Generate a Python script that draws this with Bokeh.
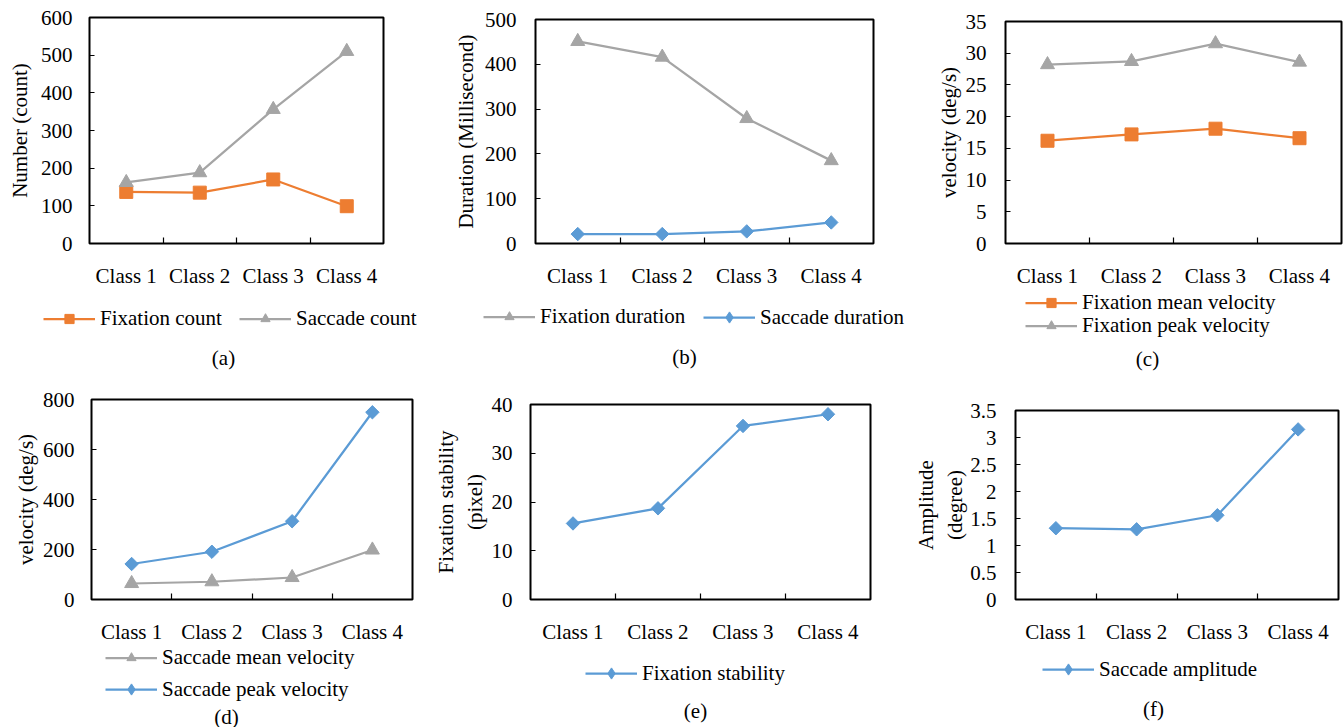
import numpy as np
from bokeh.plotting import figure
from bokeh.models import Range1d, FixedTicker, CustomJSTickFormatter, Legend, LegendItem, Label
from bokeh.layouts import row, column
from bokeh.embed import file_html
from bokeh.resources import INLINE

# ---------------- data ----------------
classes = ["Class 1", "Class 2", "Class 3", "Class 4"]

fixation_count = [137, 135, 170, 99]
saccade_count = [162, 188, 356, 510]

fixation_duration = [451, 416, 279, 185]
saccade_duration = [21, 21, 27, 47]

fixation_mean_velocity = [16.2, 17.2, 18.1, 16.6]
fixation_peak_velocity = [28.2, 28.7, 31.5, 28.6]

saccade_mean_velocity = [64, 71, 88, 198]
saccade_peak_velocity = [142, 191, 313, 749]

fixation_stability = [15.6, 18.7, 35.6, 38.0]
saccade_amplitude = [1.32, 1.30, 1.56, 3.15]

yticks_a = [0, 100, 200, 300, 400, 500, 600]
yticks_b = [0, 100, 200, 300, 400, 500]
yticks_c = [0, 5, 10, 15, 20, 25, 30, 35]
yticks_d = [0, 200, 400, 600, 800]
yticks_e = [0, 10, 20, 30, 40]
yticks_f = [0, 0.5, 1, 1.5, 2, 2.5, 3, 3.5]

# ---------------- style ----------------
FONT = "Liberation Serif"
FS = "21px"
ORANGE = "#ED7D31"
GRAY = "#A5A5A5"
BLUE = "#5B9BD5"

# chart markers
STYLE = {
    "square": dict(color=ORANGE, marker="square", size=13, angle=0.0),
    "triangle": dict(color=GRAY, marker="triangle", size=14, angle=0.0),
    "diamond": dict(color=BLUE, marker="square", size=9.5, angle=np.pi / 4),
}
# legend keys (legend marker size follows the key box height)
KEY = {
    "square": dict(color=ORANGE, marker="square", key_h=23),
    "triangle": dict(color=GRAY, marker="triangle", key_h=23),
    "diamond": dict(color=BLUE, marker="diamond", key_h=28),
}
LINE_W = 2.25
PAGE_W = 1343


def chart(width, height, left, right, top, bottom, ymax, yticks, ylabel,
          series, s1=19, s2=5):
    p = figure(width=width, height=height,
               min_border_left=left, min_border_right=right,
               min_border_top=top, min_border_bottom=bottom,
               x_range=Range1d(0.5, len(classes) + 0.5),
               y_range=Range1d(0, ymax),
               toolbar_location=None, output_backend="svg")
    p.grid.visible = False
    p.outline_line_color = "black"
    p.outline_line_width = 2
    p.outline_line_alpha = 1.0
    p.background_fill_color = "white"
    p.border_fill_color = "white"

    xs = list(range(1, len(classes) + 1))
    xa = p.xaxis[0]
    xa.ticker = FixedTicker(ticks=xs, minor_ticks=[x + 0.5 for x in xs[:-1]])
    xa.formatter = CustomJSTickFormatter(args=dict(labels=classes),
                                         code="return labels[Math.round(tick) - 1]")
    xa.major_tick_line_color = None
    xa.minor_tick_in = 6
    xa.minor_tick_out = 0
    xa.minor_tick_line_color = "black"
    xa.minor_tick_line_width = 1.2
    xa.axis_line_color = None
    xa.major_label_standoff = 14
    xa.major_label_text_font = FONT
    xa.major_label_text_font_size = FS
    xa.major_label_text_color = "black"

    ya = p.yaxis[0]
    ya.ticker = FixedTicker(ticks=yticks, minor_ticks=[])
    ya.formatter = CustomJSTickFormatter(code="return String(tick)")
    ya.major_tick_in = 5
    ya.major_tick_out = 0
    ya.major_tick_line_color = "black"
    ya.major_tick_line_width = 1.2
    ya.minor_tick_line_color = None
    ya.axis_line_color = None
    ya.major_label_standoff = s1
    ya.major_label_text_font = FONT
    ya.major_label_text_font_size = FS
    ya.major_label_text_color = "black"
    ya.axis_label = ylabel
    ya.axis_label_text_font = FONT
    ya.axis_label_text_font_size = FS
    ya.axis_label_text_font_style = "normal"
    ya.axis_label_text_color = "black"
    ya.axis_label_standoff = s2

    for values, kind, label in series:
        st = STYLE[kind]
        p.line(xs, values, line_color=st["color"], line_width=LINE_W)
        p.scatter(xs, values, marker=st["marker"], size=st["size"],
                  angle=st["angle"], fill_color=st["color"], line_color=st["color"])
    return p


def strip(height, keys, captions):
    """Full-width band (1 unit = 1 px) carrying legends and panel captions."""
    q = figure(width=PAGE_W, height=height,
               x_range=Range1d(0, PAGE_W), y_range=Range1d(0, height),
               min_border=0, toolbar_location=None, output_backend="svg",
               x_axis_location=None, y_axis_location=None)
    q.grid.visible = False
    q.outline_line_color = None
    q.background_fill_color = "white"
    q.border_fill_color = "white"
    nan = np.array([np.nan])
    for kind, label, x, y in keys:
        k = KEY[kind]
        lr = q.line(x=nan, y=nan, line_color=k["color"], line_width=LINE_W)
        sr = q.scatter(x=nan, y=nan, marker=k["marker"], size=10,
                       fill_color=k["color"], line_color=k["color"])
        q.add_layout(Legend(items=[LegendItem(label=label, renderers=[lr, sr])],
                            location=(x, y), orientation="horizontal",
                            glyph_width=52, glyph_height=k["key_h"],
                            label_height=20, label_standoff=5, padding=0, margin=0,
                            border_line_color=None, background_fill_alpha=0,
                            label_text_font=FONT, label_text_font_size=FS,
                            label_text_color="black"))
    for text, x, y in captions:
        q.add_layout(Label(x=x, y=y, text=text, text_align="center",
                           text_baseline="middle", text_font=FONT,
                           text_font_size=FS, text_color="black"))
    return q


# ---------------- row 1 (charts 290 px, band 88 px) ----------------
pa = chart(440, 290, 89, 57, 17, 41, 600, yticks_a, "Number (count)",
           [(fixation_count, "square", "Fixation count"),
            (saccade_count, "triangle", "Saccade count")], 17, 6)
pb = chart(470, 290, 95, 37, 19, 42, 500, yticks_b, "Duration (Millisecond)",
           [(fixation_duration, "triangle", "Fixation duration"),
            (saccade_duration, "diamond", "Saccade duration")], 19, 4)
pc = chart(433, 290, 95, 2, 21, 41, 35, yticks_c, "velocity (deg/s)",
           [(fixation_mean_velocity, "square", "Fixation mean velocity"),
            (fixation_peak_velocity, "triangle", "Fixation peak velocity")], 19, 2)

band1 = strip(88,
              [("square", "Fixation count", 43, 47),
               ("triangle", "Saccade count", 239, 47),
               ("triangle", "Fixation duration", 483, 49),
               ("diamond", "Saccade duration", 703, 47),
               ("square", "Fixation mean velocity", 1025, 63),
               ("triangle", "Fixation peak velocity", 1025, 40)],
              [("(a)", 223, 21), ("(b)", 684, 22), ("(c)", 1147, 20)])

# ---------------- row 2 (charts 268 px, band 81 px) ----------------
pd = chart(420, 268, 91, 8, 21, 42, 800, yticks_d, "velocity (deg/s)",
           [(saccade_mean_velocity, "triangle", "Saccade mean velocity"),
            (saccade_peak_velocity, "diamond", "Saccade peak velocity")], 17, 2)
pe = chart(470, 268, 110, 20, 26, 39, 40, yticks_e, "Fixation stability\n(pixel)",
           [(fixation_stability, "diamond", "Fixation stability")], 18, 2)
pf = chart(453, 268, 125, 5, 32, 38, 3.5, yticks_f, "Amplitude\n(degree)",
           [(saccade_amplitude, "diamond", "Saccade amplitude")], 19, 0)

band2 = strip(81,
              [("triangle", "Saccade mean velocity", 105, 57),
               ("diamond", "Saccade peak velocity", 105, 24),
               ("diamond", "Fixation stability", 585, 40),
               ("diamond", "Saccade amplitude", 1042, 44)],
              [("(d)", 226, 11), ("(e)", 695, 17), ("(f)", 1153, 19)])

# each chart sits in its own column so that Bokeh does not align their frames
layout = column(
    row(column(pa), column(pb), column(pc), spacing=0),
    row(band1),
    row(column(pd), column(pe), column(pf), spacing=0),
    row(band2),
    spacing=0,
)

open("out.html", "w").write(file_html(layout, INLINE))
